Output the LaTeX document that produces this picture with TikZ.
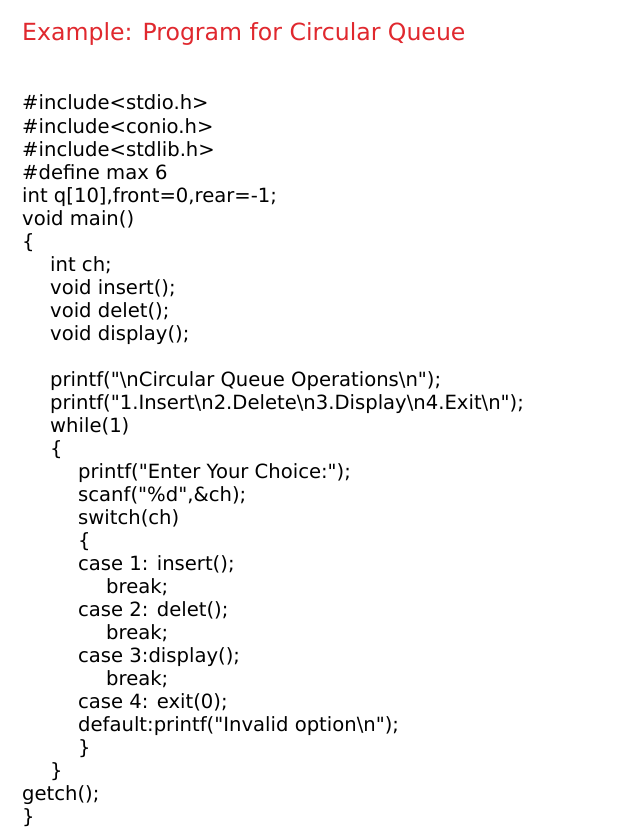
\documentclass[tikz,border=0pt]{standalone}
\usepackage{fontspec}
\setmainfont[Ligatures=TeXOff]{DejaVu Sans}
\definecolor{titlered}{HTML}{E0282E}
\newcommand{\dq}{\char34\relax}
\begin{document}
\begin{tikzpicture}[x=1pt,y=-1pt,
  code/.style={anchor=base west,inner sep=0pt,font=\fontsize{19.6}{22}\selectfont},
  ttl/.style={anchor=base west,inner sep=0pt,text=titlered,font=\fontsize{23.6}{26}\selectfont}]
\useasboundingbox[fill=white] (0,0) rectangle (616,840);
\node[ttl] (title) at (22,41) {Example: Program for Circular Queue};
\def\L#1#2#3{\node[code] (l#1) at (22+28*#2,110+23.03*#1-23.03) {#3};}
\L{1}{0}{\#include<stdio.h>}
\L{2}{0}{\#include<conio.h>}
\L{3}{0}{\#include<stdlib.h>}
\L{4}{0}{\#define max 6}
\L{5}{0}{int q[10],front=0,rear=-1;}
\L{6}{0}{void main()}
\L{7}{0}{\{}
\L{8}{1}{int ch;}
\L{9}{1}{void insert();}
\L{10}{1}{void delet();}
\L{11}{1}{void display();}
\L{13}{1}{printf(\dq\textbackslash nCircular Queue Operations\textbackslash n\dq);}
\L{14}{1}{printf(\dq1.Insert\textbackslash n2.Delete\textbackslash n3.Display\textbackslash n4.Exit\textbackslash n\dq);}
\L{15}{1}{while(1)}
\L{16}{1}{\{}
\L{17}{2}{printf(\dq Enter Your Choice:\dq);}
\L{18}{2}{scanf(\dq\%d\dq,\&ch);}
\L{19}{2}{switch(ch)}
\L{20}{2}{\{}
\L{21}{2}{case 1: insert();}
\L{22}{3}{break;}
\L{23}{2}{case 2: delet();}
\L{24}{3}{break;}
\L{25}{2}{case 3:display();}
\L{26}{3}{break;}
\L{27}{2}{case 4: exit(0);}
\L{28}{2}{default:printf(\dq Invalid option\textbackslash n\dq);}
\L{29}{2}{\}}
\L{30}{1}{\}}
\L{31}{0}{getch();}
\L{32}{0}{\}}
\end{tikzpicture}
\end{document}
